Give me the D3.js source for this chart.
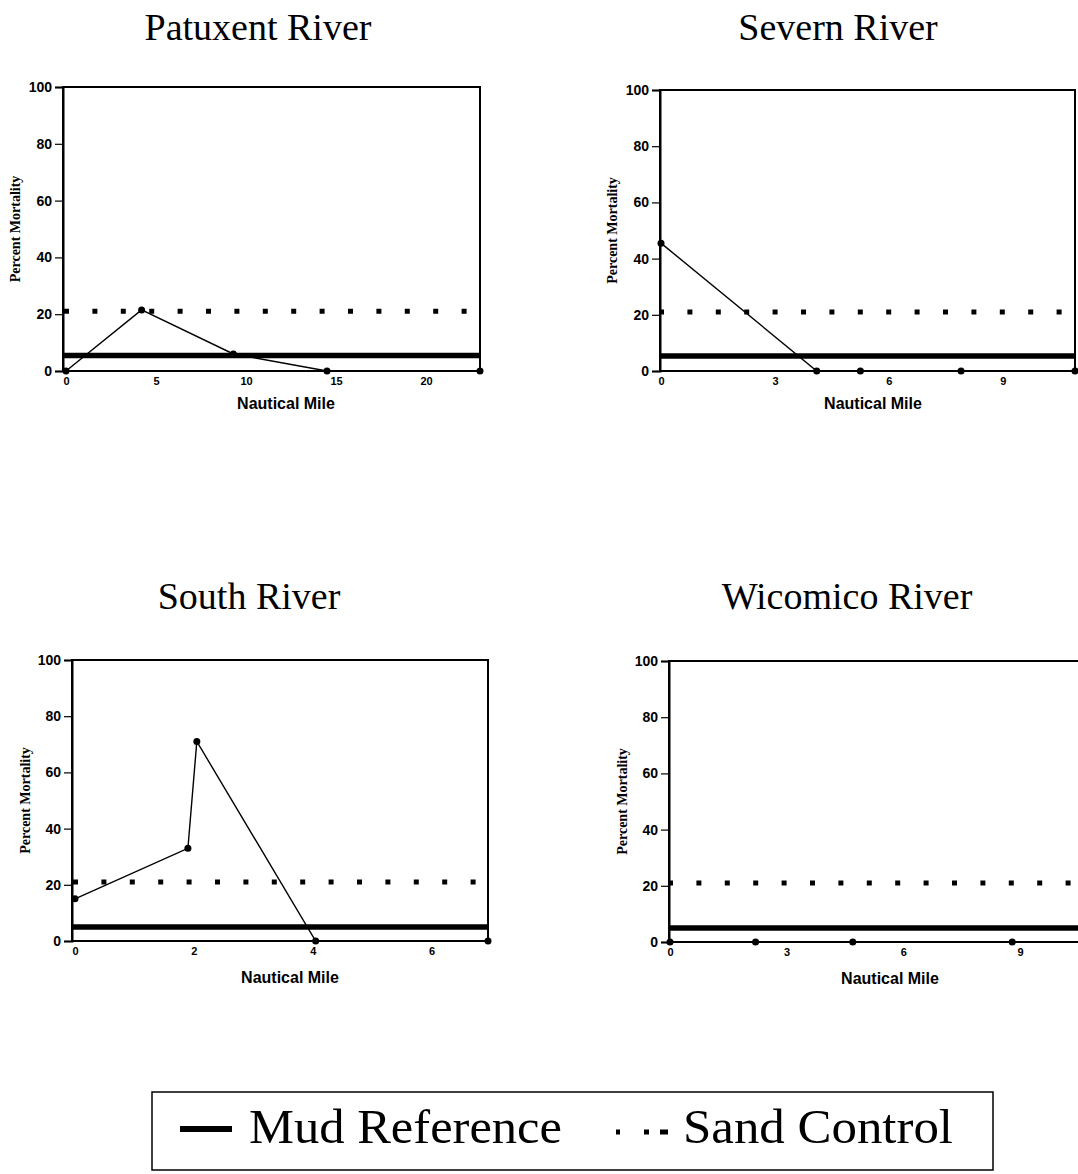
<!DOCTYPE html>
<html>
<head>
<meta charset="utf-8">
<script src="https://cdn.jsdelivr.net/npm/d3@7"></script>
<style>
  body { margin: 0; background: #fff; }
  .tick text { font-family: "Liberation Sans", Arial, sans-serif; font-weight: bold; }
</style>
</head>
<body>
<div class="chart"></div>
<script>
// rivers and their sampled stations (nautical mile vs percent mortality)
var rivers = ["Patuxent River", "Severn River", "South River", "Wicomico River"];

var patuxentMiles = [0, 4.2, 9.3, 14.5, 23];
var patuxentMort  = [0, 21.5, 6, 0, 0];
var severnMiles   = [0, 4.1, 5.25, 7.9, 10.9];
var severnMort    = [45.5, 0, 0, 0, 0];
var southMiles    = [0, 1.9, 2.05, 4.05, 6.95];
var southMort     = [15, 33, 71, 0, 0];
var wicomicoMiles = [0, 2.2, 4.7, 8.8, 10.9];
var wicomicoMort  = [0, 0, 0, 0, 0];

var xMax   = [23, 10.9, 6.95, 10.8];
var xTicks = [[0, 5, 10, 15, 20], [0, 3, 6, 9], [0, 2, 4, 6], [0, 3, 6, 9]];
var yTicks = [0, 20, 40, 60, 80, 100];

var mudReference = [5.5, 5.3, 5, 5];
var sandControl  = [21, 21, 21, 21];

var legendLabels = ["Mud Reference", "Sand Control"];

var miles = [patuxentMiles, severnMiles, southMiles, wicomicoMiles];
var morts = [patuxentMort, severnMort, southMort, wicomicoMort];

// panel boxes (left, x of zero, right, top, bottom) and title / label spots
var panels = [
  {left: 63,  x0: 66,  right: 480,  top: 87,  bottom: 371, tx: 258, ty: 40,  lx: 15,  nx: 286, ny: 409},
  {left: 660, x0: 661, right: 1075, top: 90,  bottom: 371, tx: 838, ty: 40,  lx: 612, nx: 873, ny: 409},
  {left: 72,  x0: 75,  right: 488,  top: 660, bottom: 941, tx: 249, ty: 609, lx: 25,  nx: 290, ny: 983},
  {left: 669, x0: 670, right: 1090, top: 661, bottom: 942, tx: 847, ty: 609, lx: 622, nx: 890, ny: 984}
];

var W = 1078, H = 1174;
var svg = d3.select(".chart").append("svg")
  .attr("width", W)
  .attr("height", H);

var serif = "'Liberation Serif', 'Times New Roman', serif";
var sans = "'Liberation Sans', Arial, sans-serif";

panels.forEach(function(p, i) {
  var x = d3.scaleLinear().domain([0, xMax[i]]).range([p.x0, p.right]);
  var y = d3.scaleLinear().domain([0, 100]).range([p.bottom, p.top]);
  var g = svg.append("g");

  // title
  g.append("text")
    .attr("x", p.tx).attr("y", p.ty)
    .attr("text-anchor", "middle")
    .style("font-family", serif)
    .style("font-size", "38px")
    .text(rivers[i]);

  // frame
  g.append("rect")
    .attr("x", p.left).attr("y", p.top)
    .attr("width", p.right - p.left).attr("height", p.bottom - p.top)
    .attr("fill", "none").attr("stroke", "#000").attr("stroke-width", 2);

  // y axis
  var ya = g.append("g")
    .attr("transform", "translate(" + p.left + ",0)")
    .call(d3.axisLeft(y).tickValues(yTicks).tickSize(8).tickPadding(3));
  ya.select(".domain").attr("stroke-width", 2);
  ya.selectAll(".tick line").attr("stroke-width", 1.2);
  ya.selectAll(".tick text").style("font-size", "14px");

  // x axis
  var xa = g.append("g")
    .attr("transform", "translate(0," + p.bottom + ")")
    .call(d3.axisBottom(x).tickValues(xTicks[i]).tickFormat(d3.format("d")).tickSize(0).tickPadding(6));
  xa.select(".domain").remove();
  xa.selectAll(".tick text").style("font-size", "11px");

  g.append("text")
    .attr("x", p.nx)
    .attr("y", p.ny)
    .attr("text-anchor", "middle")
    .style("font-family", sans).style("font-weight", "bold").style("font-size", "16px")
    .text("Nautical Mile");

  g.append("text")
    .attr("transform", "translate(" + (p.lx + 5) + "," + ((p.top + p.bottom) / 2) + ") rotate(-90)")
    .attr("text-anchor", "middle")
    .style("font-family", serif).style("font-weight", "bold").style("font-size", "14px")
    .text("Percent Mortality");

  // mud reference - thick line
  g.append("line")
    .attr("x1", p.left).attr("x2", p.right)
    .attr("y1", y(mudReference[i])).attr("y2", y(mudReference[i]))
    .attr("stroke", "#000").attr("stroke-width", 5.5);

  // sand control - square dots
  g.append("line")
    .attr("x1", x(0) - 2).attr("x2", p.right + 2)
    .attr("y1", y(sandControl[i])).attr("y2", y(sandControl[i]))
    .attr("stroke", "#000").attr("stroke-width", 5)
    .attr("stroke-dasharray", "5 23.4");

  // station line
  var pts = miles[i].map(function(m, k) { return [m, morts[i][k]]; });
  var line = d3.line().x(function(d) { return x(d[0]); }).y(function(d) { return y(d[1]); });
  g.append("path")
    .datum(pts)
    .attr("d", line)
    .attr("fill", "none").attr("stroke", "#000").attr("stroke-width", 1.4);
  g.selectAll("circle.pt")
    .data(pts)
    .enter().append("circle")
    .attr("class", "pt")
    .attr("cx", function(d) { return x(d[0]); })
    .attr("cy", function(d) { return y(d[1]); })
    .attr("r", 3.5)
    .attr("fill", "#000");
});

// legend
var lg = svg.append("g");
lg.append("rect")
  .attr("x", 152).attr("y", 1092).attr("width", 841).attr("height", 78)
  .attr("fill", "none").attr("stroke", "#000").attr("stroke-width", 1.5);
lg.append("line")
  .attr("x1", 180).attr("x2", 232).attr("y1", 1129).attr("y2", 1129)
  .attr("stroke", "#000").attr("stroke-width", 6);
lg.append("text")
  .attr("x", 249).attr("y", 1143)
  .attr("textLength", 313).attr("lengthAdjust", "spacingAndGlyphs")
  .style("font-family", serif).style("font-size", "48px")
  .text(legendLabels[0]);
lg.append("line")
  .attr("x1", 616).attr("x2", 669).attr("y1", 1132).attr("y2", 1132)
  .attr("stroke", "#000").attr("stroke-width", 5)
  .attr("stroke-dasharray", "4 24 5 11 8 50");
lg.append("text")
  .attr("x", 683).attr("y", 1143)
  .attr("textLength", 270).attr("lengthAdjust", "spacingAndGlyphs")
  .style("font-family", serif).style("font-size", "48px")
  .text(legendLabels[1]);
</script>
</body>
</html>
